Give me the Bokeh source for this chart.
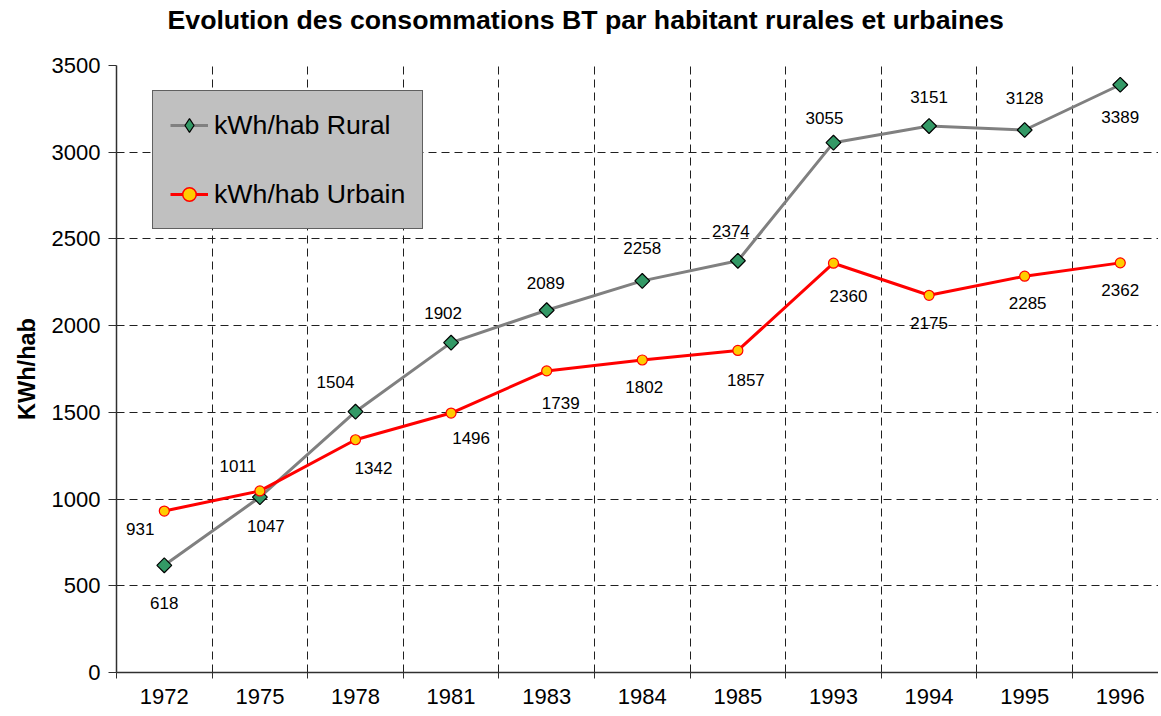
import math
from bokeh.plotting import figure
from bokeh.models import (ColumnDataSource, Range1d, FixedTicker, Legend, LegendItem, Title)
from bokeh.embed import file_html
from bokeh.resources import INLINE
from bokeh.core.properties import value

years = ["1972", "1975", "1978", "1981", "1983", "1984", "1985", "1993", "1994", "1995", "1996"]
rural = [618, 1011, 1504, 1902, 2089, 2258, 2374, 3055, 3151, 3128, 3389]
urbain = [931, 1047, 1342, 1496, 1739, 1802, 1857, 2360, 2175, 2285, 2362]
y_ticks = [0, 500, 1000, 1500, 2000, 2500, 3000, 3500]
title_text = "Evolution des consommations BT par habitant rurales et urbaines"

# label offsets in screen pixels (dx, dy downward)
rural_dx = [0, -22, -20, -8, -1, 0, -7, -9, 0, 0, 0]
rural_dy = [38, -31, -30, -30, -27, -33, -30, -25, -29, -32, 32]
urb_dx = [-24, 6, 18, 20, 14, 2, 8, 15, 0, 3, 0]
urb_dy = [18, 35, 28, 25, 32, 27, 30, 33, 28, 27, 27]

FONT = "Liberation Sans"
xs = list(range(len(years)))

p = figure(width=1158, height=712, output_backend="svg", toolbar_location=None,
           x_range=Range1d(-0.5, 10.4), y_range=Range1d(0, 3500),
           min_border_left=116, min_border_right=0, min_border_top=65, min_border_bottom=40)
p.outline_line_color = None
p.background_fill_color = "white"

p.title.text = title_text
p.title.text_font = FONT
p.title.text_font_size = "26.7px"
p.title.text_font_style = "bold"
p.title.text_color = "black"
p.title.align = "left"
p.title.offset = 51
p.title.vertical_align = "top"
p.title.standoff = 0
# spacer between the title and the plot frame
p.add_layout(Title(text=" ", text_font_size="10px", standoff=16), "above")

src_r = ColumnDataSource(dict(x=xs, y=rural, t=[str(v) for v in rural], dx=rural_dx, dy=rural_dy))
src_u = ColumnDataSource(dict(x=xs, y=urbain, t=[str(v) for v in urbain], dx=urb_dx, dy=urb_dy))

lr = p.line("x", "y", source=src_r, line_color="#808080", line_width=3)
mr = p.scatter("x", "y", source=src_r, marker="square", angle=math.pi / 4, size=10.5,
               fill_color="#339966", line_color="black", line_width=1.2)
lu = p.line("x", "y", source=src_u, line_color="#FF0000", line_width=3)
mu = p.scatter("x", "y", source=src_u, marker="circle", size=10, fill_color="#FFCC00",
               line_color="#FF0000", line_width=1.2)
# legend-only markers (hidden in the plot)
md = p.scatter("x", "y", source=src_r, marker="diamond", size=17, fill_color="#339966",
               line_color="black", line_width=1.2, visible=False)
mu_leg = p.scatter("x", "y", source=src_u, marker="circle", size=10, fill_color="#FFCC00",
                   line_color="#FF0000", line_width=1.5, visible=False)

for s in (src_r, src_u):
    p.text("x", "y", text="t", source=s, x_offset="dx", y_offset="dy",
           text_align="center", text_baseline="middle", text_font=value(FONT),
           text_font_size="17px", text_color="black")

# axes
p.xaxis.ticker = FixedTicker(ticks=xs, minor_ticks=[i + 0.5 for i in range(-1, len(years))])
p.xaxis.major_label_overrides = {i: y for i, y in enumerate(years)}
p.xaxis.major_tick_line_color = None
p.xaxis.minor_tick_out = 6
p.xaxis.minor_tick_in = 0
p.xaxis.minor_tick_line_color = "#303030"
p.xaxis.axis_line_color = "#303030"
p.xaxis.axis_line_width = 1.5
p.xaxis.major_label_text_font = FONT
p.xaxis.major_label_text_font_size = "22px"
p.xaxis.major_label_text_color = "black"
p.xaxis.major_label_standoff = 10

p.yaxis.ticker = FixedTicker(ticks=y_ticks)
p.yaxis.minor_tick_line_color = None
p.yaxis.major_tick_out = 8
p.yaxis.major_tick_in = 0
p.yaxis.major_tick_line_color = "#303030"
p.yaxis.axis_line_color = "#303030"
p.yaxis.axis_line_width = 1.5
p.yaxis.major_label_text_font = FONT
p.yaxis.major_label_text_font_size = "22px"
p.yaxis.major_label_text_color = "black"
p.yaxis.major_label_standoff = 8
p.yaxis.axis_label = "KWh/hab"
p.yaxis.axis_label_text_font = FONT
p.yaxis.axis_label_text_font_size = "23.5px"
p.yaxis.axis_label_text_font_style = "bold"
p.yaxis.axis_label_text_color = "black"
p.yaxis.axis_label_standoff = 9

p.xgrid.ticker = FixedTicker(ticks=[i + 0.5 for i in range(len(years))])
p.ygrid.ticker = FixedTicker(ticks=y_ticks[1:])
for g in (p.xgrid, p.ygrid):
    g.grid_line_color = "#202020"
    g.grid_line_dash = "8 5"
    g.grid_line_width = 1

legend = Legend(items=[LegendItem(label="kWh/hab Rural", renderers=[lr, md]),
                       LegendItem(label="kWh/hab Urbain", renderers=[lu, mu_leg])],
                location=(36, 443))
legend.background_fill_color = "#C0C0C0"
legend.background_fill_alpha = 1
legend.border_line_color = "black"
legend.border_line_width = 1.5
legend.label_text_font = FONT
legend.label_text_font_size = "26.7px"
legend.label_text_color = "black"
legend.glyph_width = 38
legend.glyph_height = 34
legend.label_height = 34
legend.label_standoff = 6
legend.spacing = 35
legend.padding = 17
legend.margin = 0
p.add_layout(legend, "center")

open("out.html", "w").write(file_html(p, INLINE))
